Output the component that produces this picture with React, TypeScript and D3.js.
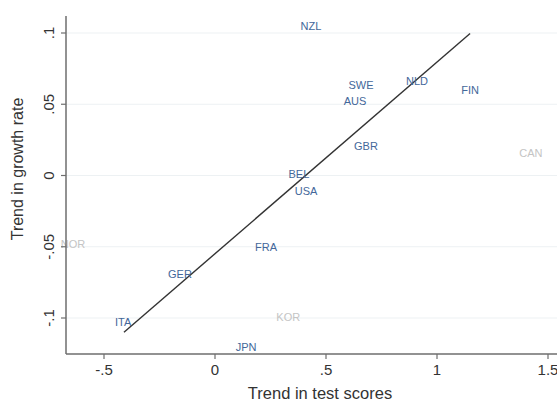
import React from "react";
import * as d3 from "d3";

const countries = ["NZL", "SWE", "NLD", "FIN", "AUS", "GBR", "CAN", "BEL", "USA", "NOR", "FRA", "GER", "ITA", "KOR", "JPN"];
const testTrend = [0.432, 0.658, 0.91, 1.149, 0.631, 0.68, 1.423, 0.378, 0.41, -0.64, 0.23, -0.158, -0.414, 0.33, 0.14];
const growthTrend = [0.105, 0.0638, 0.0666, 0.0603, 0.0526, 0.021, 0.016, 0.0014, -0.011, -0.048, -0.05, -0.069, -0.103, -0.0996, -0.12];
const excluded = ["CAN", "NOR", "KOR"];
const fitX = [-0.41, 1.149];
const fitY = [-0.11, 0.0996];
const xTicks = [-0.5, 0, 0.5, 1, 1.5];
const xTickLabels = ["-.5", "0", ".5", "1", "1.5"];
const yTicks = [-0.1, -0.05, 0, 0.05, 0.1];
const yTickLabels = ["-.1", "-.05", "0", ".05", ".1"];

const W = 557;
const H = 405;
const left = 66;
const right = 557;
const top = 16;
const bottom = 354;

export default function App() {
  const x = d3.scaleLinear().domain([-0.5, 1.5]).range([104, 548]);
  const y = d3.scaleLinear().domain([-0.1, 0.1]).range([318, 33]);
  const line = d3.line<number>().x((d, i) => x(fitX[i])).y((d, i) => y(fitY[i]));
  const font = "Arial, 'Liberation Sans', Helvetica, sans-serif";
  return (
    <svg width={W} height={H} style={{ position: "absolute", left: 0, top: 0 }} fontFamily={font}>
      <rect width={W} height={H} fill="#ffffff" />
      {yTicks.map((t) => (
        <line key={"g" + t} x1={left} x2={right} y1={y(t)} y2={y(t)} stroke="#edf1f3" strokeWidth={1.2} />
      ))}
      <path d={line(fitX) || ""} fill="none" stroke="#333333" strokeWidth={1.4} />
      {countries.map((c, i) => (
        <text
          key={c}
          x={x(testTrend[i])}
          y={y(growthTrend[i])}
          textAnchor="middle"
          dominantBaseline="central"
          fontSize={11}
          fill={excluded.includes(c) ? "#c4c4c4" : "#43679a"}
        >
          {c}
        </text>
      ))}
      <line x1={left} x2={left} y1={top} y2={bottom} stroke="#6e6e6e" strokeWidth={1.5} />
      <line x1={left} x2={right} y1={bottom} y2={bottom} stroke="#6e6e6e" strokeWidth={1.5} />
      {yTicks.map((t, i) => (
        <g key={"y" + t}>
          <line x1={left - 5} x2={left} y1={y(t)} y2={y(t)} stroke="#6e6e6e" strokeWidth={1.2} />
          <text
            transform={`translate(${left - 12},${y(t)}) rotate(-90)`}
            textAnchor="middle"
            fontSize={15}
            fill="#333333"
          >
            {yTickLabels[i]}
          </text>
        </g>
      ))}
      {xTicks.map((t, i) => (
        <g key={"x" + t}>
          <line x1={x(t)} x2={x(t)} y1={bottom} y2={bottom + 5} stroke="#6e6e6e" strokeWidth={1.2} />
          <text x={x(t)} y={bottom + 21} textAnchor="middle" fontSize={15} fill="#333333">
            {xTickLabels[i]}
          </text>
        </g>
      ))}
      <text x={320} y={399} textAnchor="middle" fontSize={16.5} fill="#333333">
        Trend in test scores
      </text>
      <text transform={`translate(23,${169}) rotate(-90)`} textAnchor="middle" fontSize={16} fill="#333333">
        Trend in growth rate
      </text>
    </svg>
  );
}
